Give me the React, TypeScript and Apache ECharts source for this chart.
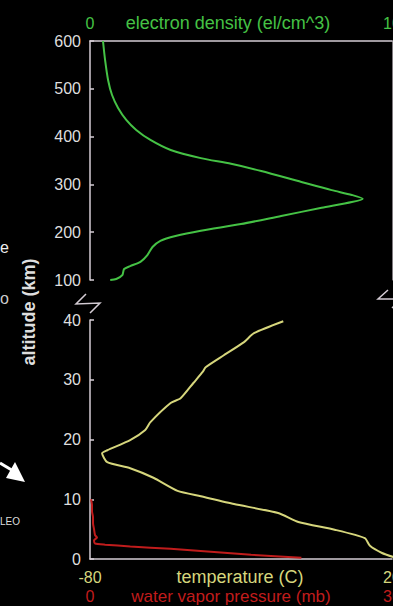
import React, { useEffect, useRef } from "react";
import * as echarts from "echarts";

// Electron density (upper panel): altitude km, density (0..10 scale)
const edAltitude = [600, 560, 518, 487, 460, 435, 414, 393, 372, 355, 343, 328, 305, 288, 278, 270,
  263, 251, 234, 217, 203, 192, 182, 169, 152, 138, 129, 123, 110, 102, 100];
const edDensity = [0.43, 0.5, 0.6, 0.73, 0.93, 1.2, 1.53, 2.0, 2.67, 3.67, 4.67, 5.67, 7.0, 8.0, 8.67, 9.03,
  8.67, 7.67, 6.33, 5.0, 3.67, 2.83, 2.33, 2.07, 1.9, 1.67, 1.33, 1.13, 1.07, 0.87, 0.67];

// Temperature (lower panel): altitude km, temperature C
const tempAltitude = [39.8, 37.8, 36.3, 34.1, 32.1, 31.3, 29.5, 26.9, 26.1, 22.9, 21.6, 19.9, 18.2, 17.7,
  16.2, 15.2, 13.6, 11.4, 10.5, 9.2, 7.7, 6.2, 4.9, 3.5, 2.2, 1.0, 0.3];
const tempValues = [-16, -25.7, -29, -35.7, -41.7, -42.7, -45.7, -50, -53.3, -60, -61.7, -66.7, -74.3, -76,
  -74.3, -66.7, -59, -51, -43.3, -32.3, -17.7, -11, 1, 11, 12.7, 16.7, 20.7];

// Water vapor pressure (lower panel): altitude km, pressure mb
const wvAltitude = [10, 9, 8, 7, 6, 5, 4, 3.6, 3.1, 2.6, 2.4, 2.1, 1.7, 1.2, 0.7, 0.2];
const wvValues = [0.1, 0.2, 0.2, 0.3, 0.3, 0.4, 0.5, 0.7, 0.4, 0.5, 1.5, 4, 8, 12, 16, 21];

// Axis ranges / tick labels
const densityTicks = [0, 10];
const tempTicks = [-80, 20];
const wvTicks = [0, 30];

const GREEN = "#45c245";
const YELLOW = "#d6d67c";
const RED = "#c01c1c";
const AXIS = "#d4ccd4";
const LABEL = "#dedede";
const FONT = "Liberation Sans, Arial, sans-serif";

export default function App() {
  const ref = useRef<HTMLDivElement>(null);
  useEffect(() => {
    document.body.style.margin = "0";
    document.body.style.background = "#000";
    const chart = echarts.init(ref.current!, null, { renderer: "svg" });
    const zip = (xs: number[], ys: number[]) => xs.map((x, i) => [x, ys[i]]);
    const lineStyleAxis = { show: true, onZero: false, lineStyle: { color: AXIS, width: 1.5 } };
    chart.setOption({
      animation: false,
      backgroundColor: "#000",
      textStyle: { fontFamily: FONT },
      grid: [
        { left: 90, top: 41, width: 302, height: 239, outerBoundsMode: "none", containLabel: false },
        { left: 90, top: 320, width: 302, height: 239, outerBoundsMode: "none", containLabel: false },
      ],
      xAxis: [
        {
          gridIndex: 0, type: "value", position: "top",
          min: densityTicks[0], max: densityTicks[1], interval: 10,
          axisLine: lineStyleAxis, axisTick: { show: false }, splitLine: { show: false },
          axisLabel: { color: GREEN, fontSize: 16, margin: 10 },
        },
        {
          gridIndex: 1, type: "value", position: "bottom",
          min: tempTicks[0], max: tempTicks[1], interval: 20,
          axisLine: lineStyleAxis, axisTick: { show: false }, splitLine: { show: false },
          axisLabel: {
            color: YELLOW, fontSize: 16, margin: 10,
            formatter: (v: number) => (tempTicks.includes(v) ? String(v) : ""),
          },
        },
        {
          gridIndex: 1, type: "value", position: "bottom", offset: 20,
          min: wvTicks[0], max: wvTicks[1], interval: 30,
          axisLine: { show: false, onZero: false }, axisTick: { show: false }, splitLine: { show: false },
          axisLabel: { color: RED, fontSize: 16, margin: 9 },
        },
      ],
      yAxis: [
        {
          gridIndex: 0, type: "value", min: 100, max: 600, interval: 100,
          axisLine: lineStyleAxis,
          axisTick: { show: true, inside: true, length: 4, lineStyle: { color: AXIS, width: 1.5 } },
          splitLine: { show: false },
          axisLabel: { color: LABEL, fontSize: 16, margin: 9 },
        },
        {
          gridIndex: 0, type: "value", position: "right", min: 100, max: 600,
          axisLine: { show: true, onZero: false, lineStyle: { color: AXIS, width: 1, opacity: 0.6 } },
          axisTick: { show: false }, axisLabel: { show: false }, splitLine: { show: false },
        },
        {
          gridIndex: 1, type: "value", min: 0, max: 40, interval: 10,
          axisLine: lineStyleAxis,
          axisTick: { show: true, inside: true, length: 4, lineStyle: { color: AXIS, width: 1.5 } },
          splitLine: { show: false },
          axisLabel: { color: LABEL, fontSize: 16, margin: 9 },
        },
      ],
      series: [
        {
          name: "electron density", type: "line", xAxisIndex: 0, yAxisIndex: 0,
          data: zip(edDensity, edAltitude), showSymbol: false, smooth: 0.25,
          lineStyle: { color: GREEN, width: 2 },
        },
        {
          name: "temperature", type: "line", xAxisIndex: 1, yAxisIndex: 2,
          data: zip(tempValues, tempAltitude), showSymbol: false, smooth: 0.2,
          lineStyle: { color: YELLOW, width: 2 },
        },
        {
          name: "water vapor pressure", type: "line", xAxisIndex: 2, yAxisIndex: 2,
          data: zip(wvValues, wvAltitude), showSymbol: false, smooth: 0.2,
          lineStyle: { color: RED, width: 2 },
        },
      ],
      graphic: [
        { type: "text", x: 228, y: 23, style: { text: "electron density (el/cm^3)", fill: GREEN, font: `18px ${FONT}`, align: "center", verticalAlign: "middle" } },
        { type: "text", x: 240, y: 577, style: { text: "temperature (C)", fill: YELLOW, font: `18px ${FONT}`, align: "center", verticalAlign: "middle" } },
        { type: "text", x: 231, y: 596, style: { text: "water vapor pressure (mb)", fill: RED, font: `17px ${FONT}`, align: "center", verticalAlign: "middle" } },
        {
          type: "text", x: 29, y: 312, rotation: Math.PI / 2,
          style: { text: "altitude (km)", fill: LABEL, font: `bold 18px ${FONT}`, align: "center", verticalAlign: "middle" },
        },
        { type: "polyline", shape: { points: [[86, 294], [76, 304], [100, 303], [90, 313]] }, style: { stroke: AXIS, fill: null, lineWidth: 1.5 } },
        { type: "polyline", shape: { points: [[388, 290], [378, 299], [402, 299], [392, 308]] }, style: { stroke: AXIS, fill: null, lineWidth: 1.5 } },
        { type: "text", x: 0, y: 239, style: { text: "e", fill: "#eee", font: `16px ${FONT}` } },
        { type: "text", x: 0, y: 290, style: { text: "o", fill: "#ccc", font: `16px ${FONT}` } },
        { type: "line", shape: { x1: 0, y1: 463, x2: 15, y2: 472 }, style: { stroke: "#fff", lineWidth: 3 } },
        { type: "polygon", shape: { points: [[25, 482], [15, 462], [6, 478]] }, style: { fill: "#fff" } },
        { type: "text", x: 0, y: 516, style: { text: "LEO", fill: "#ddd", font: `10px ${FONT}` } },
      ],
    });
    return () => chart.dispose();
  }, []);
  return <div ref={ref} style={{ width: 393, height: 606, background: "#000" }} />;
}
